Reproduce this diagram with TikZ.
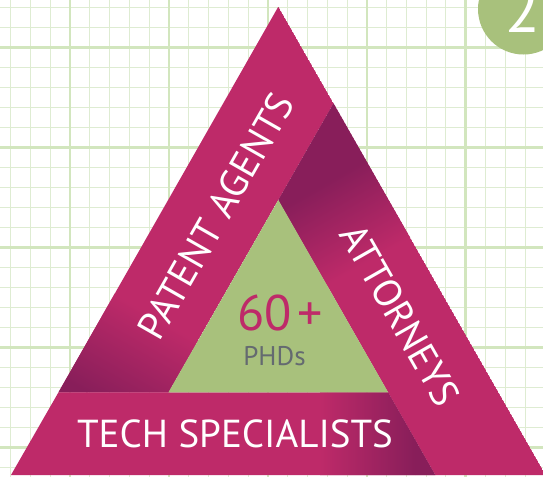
\documentclass[tikz,border=0pt]{standalone}
\usepackage{fontspec}
\setmainfont{PT Sans}
\definecolor{mag}{RGB}{190,42,105}
\definecolor{darkmag}{RGB}{136,30,90}
\definecolor{leaf}{RGB}{168,193,124}
\definecolor{gridmajor}{RGB}{210,230,190}
\definecolor{gridminor}{RGB}{222,236,210}
\definecolor{phdgray}{RGB}{100,106,112}
\tikzset{
  minorline/.style={draw=gridminor, line width=0.9pt},
  majorline/.style={draw=gridmajor, line width=2.4pt},
  bandtext/.style={text=white, font=\fontsize{39}{39}\selectfont, inner sep=0pt},
}
\begin{document}
\begin{tikzpicture}[x=1pt,y=-1pt]
\useasboundingbox (0,0) rectangle (543,477);
\clip (0,0) rectangle (543,477);
\fill[white] (0,0) rectangle (543,477);
% grid
\foreach \k in {0,...,27} \draw[minorline] ({10.7+19.78*\k},0) -- ({10.7+19.78*\k},477);
\foreach \k in {0,...,23} \draw[minorline] (0,{7.3+20*\k}) -- (543,{7.3+20*\k});
\foreach \xx in {70,168.9,267.8,366.7,465.6} \draw[majorline] (\xx,0) -- (\xx,477);
\foreach \yy in {47.3,147.3,247.3,347.3,447.3} \draw[majorline] (0,\yy) -- (543,\yy);
% key points
\coordinate (A) at (278.3,6.7);
\coordinate (BL) at (11,475);
\coordinate (BR) at (545.6,475);
\coordinate (P1) at (333.5,103.35);
\coordinate (G) at (278.3,200);
\coordinate (GL) at (168.5,392.3);
\coordinate (GR) at (388.1,392.3);
\coordinate (L) at (58.5,392.3);
\coordinate (Q) at (435.3,475);
% patent agents band
\begin{scope}
  \clip (A) -- (P1) -- (GL) -- (L) -- cycle;
  \fill[mag] (A) -- (P1) -- (GL) -- (L) -- cycle;
  \begin{scope}[transform canvas={shift={(A)}, rotate=240.3}]
    \shade[left color=mag, right color=darkmag] (330,-300) rectangle (430,300);
    \fill[darkmag] (429.5,-300) rectangle (700,300);
  \end{scope}
\end{scope}
% attorneys band
\begin{scope}
  \clip (P1) -- (BR) -- (Q) -- (G) -- cycle;
  \fill[mag] (P1) -- (BR) -- (Q) -- (G) -- cycle;
  \begin{scope}[transform canvas={shift={(P1)}, rotate=-60.3}]
    \fill[darkmag] (-200,-300) rectangle (65.5,300);
    \shade[left color=darkmag, right color=mag] (65,-300) rectangle (155,300);
  \end{scope}
\end{scope}
% tech specialists band
\begin{scope}
  \clip (L) -- (GR) -- (Q) -- (BL) -- cycle;
  \fill[mag] (L) -- (GR) -- (Q) -- (BL) -- cycle;
  \shade[left color=mag, right color=darkmag] (320,380) rectangle (415,480);
  \fill[darkmag] (414.5,380) rectangle (460,480);
\end{scope}
% green centre
\fill[leaf] (G) -- (GL) -- (GR) -- cycle;
% texts
\node[bandtext, rotate=60.3] (patent) at (216,216) {PATENT AGENTS};
\node[bandtext, rotate=-60.3] (attorneys) at (400,315) {ATTORNEYS};
\node[bandtext, anchor=base] (tech) at (235,447) {TECH SPECIALISTS};
\node[text=mag, font=\fontsize{50}{50}\selectfont, anchor=base, inner sep=0pt] (sixty) at (280,330) {60\hspace{6pt}+};
\node[text=phdgray, font=\fontsize{27}{27}\selectfont, anchor=base, inner sep=0pt] (phd) at (274.5,365) {PHDs};
% number badge
\fill[leaf] (523.5,9) circle (45.5);
\node[text=white, font=\fontsize{64}{64}\selectfont, anchor=base, inner sep=0pt] (two) at (522.5,32.3) {2};
\end{tikzpicture}
\end{document}
